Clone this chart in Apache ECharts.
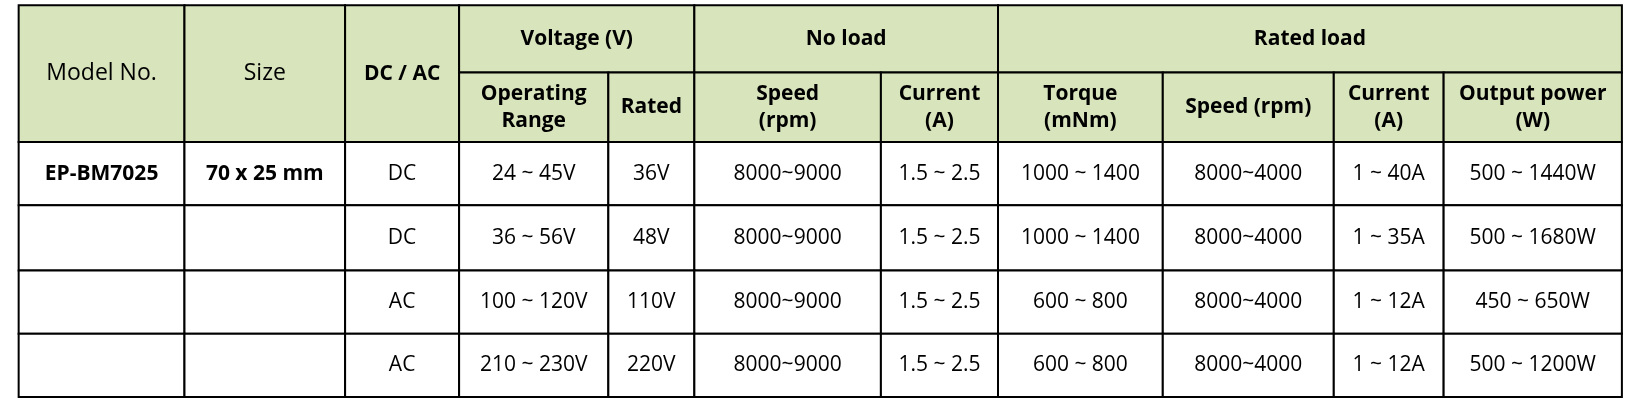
<!DOCTYPE html>
<html><head><meta charset="utf-8">
<script src="https://cdn.jsdelivr.net/npm/echarts@6/dist/echarts.min.js"></script>
<style>html,body{margin:0;padding:0;background:#fff}#c{width:1625px;height:404px}</style>
</head><body><div id="c"></div>
<script>
// ---- data ----
const topHeaders = ["Model No.", "Size", "DC / AC", "Voltage (V)", "No load", "Rated load"];
const subHeaders = ["Operating\nRange", "Rated", "Speed\n(rpm)", "Current\n(A)", "Torque\n(mNm)", "Speed (rpm)", "Current\n(A)", "Output power\n(W)"];
const models = ["EP-BM7025", "", "", ""];
const sizes = ["70 x 25 mm", "", "", ""];
const types = ["DC", "DC", "AC", "AC"];
const operatingRange = ["24 ~ 45V", "36 ~ 56V", "100 ~ 120V", "210 ~ 230V"];
const ratedVoltage = ["36V", "48V", "110V", "220V"];
const noLoadSpeed = ["8000~9000", "8000~9000", "8000~9000", "8000~9000"];
const noLoadCurrent = ["1.5 ~ 2.5", "1.5 ~ 2.5", "1.5 ~ 2.5", "1.5 ~ 2.5"];
const torque = ["1000 ~ 1400", "1000 ~ 1400", "600 ~ 800", "600 ~ 800"];
const ratedSpeed = ["8000~4000", "8000~4000", "8000~4000", "8000~4000"];
const ratedCurrent = ["1 ~ 40A", "1 ~ 35A", "1 ~ 12A", "1 ~ 12A"];
const outputPower = ["500 ~ 1440W", "500 ~ 1680W", "450 ~ 650W", "500 ~ 1200W"];

// ---- layout ----
const S = 1625 / 1568;
const colX = [18, 178, 333, 443, 587, 670, 850, 963, 1122, 1287, 1393, 1565].map(v => v * S);
const rowY = [5, 70, 137, 198, 261, 322, 383].map(v => v * S);
const GREEN = "#d8e4bc";
const cells = [];
function cell(c0, c1, r0, r1, text, bold, fill, size) {
  cells.push([colX[c0], rowY[r0], colX[c1], rowY[r1], text, bold ? 1 : 0, fill, size || 21]);
}
cell(0,1,0,2,topHeaders[0],false,GREEN,23);
cell(1,2,0,2,topHeaders[1],false,GREEN,23);
cell(2,3,0,2,topHeaders[2],true,GREEN);
cell(3,5,0,1,topHeaders[3],true,GREEN);
cell(5,7,0,1,topHeaders[4],true,GREEN);
cell(7,11,0,1,topHeaders[5],true,GREEN);
subHeaders.forEach((t,i)=>cell(3+i,4+i,1,2,t,true,GREEN));
const cols = [models, sizes, types, operatingRange, ratedVoltage, noLoadSpeed, noLoadCurrent, torque, ratedSpeed, ratedCurrent, outputPower];
for (let r = 0; r < 4; r++) cols.forEach((arr, c) => cell(c, c+1, 2+r, 3+r, arr[r], c < 2, "#ffffff"));

const chart = echarts.init(document.getElementById('c'));
chart.setOption({
  animation: false,
  grid: {left: 0, right: 0, top: 0, bottom: 0},
  xAxis: {type: 'value', min: 0, max: 1625, show: false},
  yAxis: {type: 'value', min: 0, max: 404, inverse: true, show: false},
  series: [{
    type: 'custom',
    coordinateSystem: 'cartesian2d',
    data: cells,
    renderItem: function (params, api) {
      const p0 = api.coord([api.value(0), api.value(1)]);
      const p1 = api.coord([api.value(2), api.value(3)]);
      const d = cells[params.dataIndex];
      return {
        type: 'group',
        children: [
          {type: 'rect', shape: {x: p0[0], y: p0[1], width: p1[0]-p0[0], height: p1[1]-p0[1]},
           style: {fill: d[6], stroke: '#000', lineWidth: 2}},
          {type: 'text', style: {x: (p0[0]+p1[0])/2, y: (p0[1]+p1[1])/2, text: d[4], align: 'center', verticalAlign: 'middle',
            font: (d[5] ? 'bold ' : '') + d[7] + 'px "Open Sans", sans-serif', fill: '#000', lineHeight: 27}}
        ]
      };
    }
  }]
});
</script></body></html>
